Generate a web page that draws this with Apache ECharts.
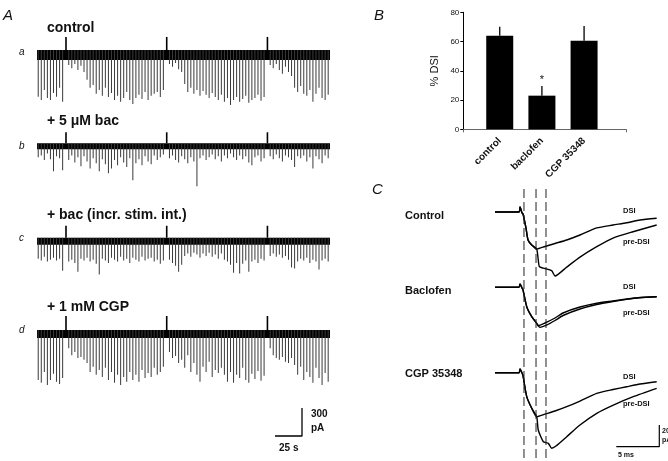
<!DOCTYPE html>
<html><head><meta charset="utf-8">
<script src="https://cdn.jsdelivr.net/npm/echarts@6/dist/echarts.min.js"></script>
<style>html,body{margin:0;padding:0;background:#fff}#c{width:668px;height:461px}</style>
</head><body><div id="c"></div><script>
// ---------- Panel B data ----------
const barCategories = ['control', 'baclofen', 'CGP 35348'];
const dsiMean = [64, 23, 60.5];
const dsiSem = [6.2, 6.6, 10.2];
const dsiSig = ['', '*', ''];

// ---------- Panel A data: IPSC amplitude per sweep (pA), null where the DSI step artifact sits ----------
const traceA = [500,535,430,515,535,460,500,405,555, null,
 160,195,150,215,170,235, 320,405,375,470,430,490,405,505,460,535, 490,555,515,450,535,580,515,480,525,450, 535,490,470,450,505,430, null,
 150,180,140,205,235, 365,450,405,470,430,490,440,480,515,460, 505,535,480,555,515,590,535,505,555,525, 490,565,535,515,480,545,505, null,
 160,195,150,215,255,180,235,280, 405,450,385,470,490,430,555,470,405,515,535,480];
const traceB = [150,130,180,110,170,300,140,160,290, null,
 180,130,205,150,245,140,195,270,160,215, 300,170,225,320,270,180,235,150,205,255, 160,395,215,170,235,140,195,225,130,180, 150,120, null,
 160,130,180,205,140,170,215,150,195,460, 160,130,180,150,120,170,140,195,130,160, 110,150,180,130,170,140,205,235,150,130, 195,160, null,
 140,170,120,160,195,130,150,180,255,140,160,130,195,150,270,140,170,215,130,160];
const traceC = [225,245,205,255,235,215,245,225,355, null,
 255,235,270,365,225,245,215,255,235,280, 395,225,245,270,215,235,255,205,245,225, 270,215,235,255,205,245,225,215,255,235, 280,245, null,
 235,270,300,365,290,195,170,205,160,180, 215,170,195,160,205,180,225,170,235,255, 290,375,270,385,280,245,365,255,235,270, 225,245, null,
 195,170,205,180,215,195,235,320,330,255,225,245,215,270,235,255,340,245,225,255];
const traceD = [535,565,450,590,535,470,555,580,515, null,
 195,270,235,300,290,320, 355,450,395,480,430,505,405,535,450,565, 480,590,505,555,450,535,480,555,430,515, 460,505,405,480,450,395, null,
 235,300,280,355, 320,405,270,450,355,480,555,395,450,340, 505,430,460,405,480,555,450,565,480,515, 405,535,565,470,525,440,545,490, null,
 195,270,300,320,290,340,355,300,375, 480,395,535,450,505,565,405,515,590,460,555];
const artifactSweeps = [9, 42, 75];
const artifactPA = [140, 118, 128, 150];   // upward artifact height per trace
const baselineNoisePA = [107, 64, 75, 86]; // thickness of noisy baseline band
const scaleA = { s: 25, pA: 300 };

// ---------- Panel C data: averaged IPSCs [ms, pA] ----------
const controlOnset = [[0,0],[2.79,0],[2.91,46],[3.14,-9],[3.26,-18],[3.60,-147],[3.84,-258],[4.27,-304],[4.85,-341]];
const controlDSItail = [[5.81,-318],[6.98,-290],[8.34,-258],[9.88,-212],[11.83,-147],[13.72,-120],[15.31,-99],[16.86,-74],[18.8,-58]];
const controlPreTail = [[5.15,-503],[5.62,-518],[6.59,-541],[6.98,-590],[8.34,-508],[9.88,-416],[11.83,-320],[13.72,-240],[16.05,-182],[18.8,-120]];
const baclofenOnset = [[0,0],[2.79,0],[2.91,30],[3.14,-6],[3.26,-25],[3.69,-179],[4.27,-271],[4.85,-332]];
const baclofenDSItail = [[5.03,-354],[5.81,-329],[6.98,-283],[7.91,-237],[9.88,-182],[11.83,-147],[13.72,-126],[15.31,-108],[16.86,-94],[18.8,-87]];
const baclofenPreTail = [[5.23,-369],[6.05,-347],[6.98,-306],[7.91,-260],[9.88,-200],[11.83,-159],[13.72,-131],[15.31,-111],[16.86,-96],[18.8,-87]];
const cgpOnset = [[0,0],[2.79,0],[2.91,34],[3.14,-3],[3.26,-30],[3.69,-221],[4.27,-328],[4.85,-406]];
const cgpDSItail = [[5.81,-382],[6.98,-353],[8.34,-313],[9.88,-261],[11.83,-190],[13.72,-155],[15.31,-129],[16.86,-104],[18.8,-83]];
const cgpPreTail = [[5.03,-528],[5.62,-636],[6.20,-651],[6.59,-697],[7.09,-676],[8.34,-590],[9.88,-482],[11.83,-374],[13.76,-298],[16.08,-221],[18.8,-144]];
const dashMs = [3.37, 4.77, 5.93];
const scaleC = { ms: 5, pA: 200 };

// ---------- layout ----------
const FONT = '"Liberation Sans", Arial, Helvetica, sans-serif';
const PX_S = 1.08, PX_PA_A = 0.0933, PX_MS = 8.6, PX_PA_C = 0.1085;
const grids = [], xAxes = [], yAxes = [], series = [];
function addGrid(g, xa, ya) {
  grids.push(g); const i = grids.length - 1;
  xAxes.push(Object.assign({ gridIndex: i }, xa));
  yAxes.push(Object.assign({ gridIndex: i }, ya));
  return i;
}

// Panel A traces
const traces = [traceA, traceB, traceC, traceD];
const bandTopY = [50, 143.3, 237.7, 330];
const sweeps = traceA.map((_, i) => String(i + 1));
traces.forEach((tr, k) => {
  const gi = addGrid({ left: 37, width: 293, top: bandTopY[k] - 200 * PX_PA_A, height: 850 * PX_PA_A },
    { type: 'category', data: sweeps, show: false, boundaryGap: true },
    { type: 'value', min: -650, max: 200, show: false });
  const art = sweeps.map((_, i) => artifactSweeps.indexOf(i) >= 0 ? artifactPA[k] : null);
  series.push({ type: 'bar', xAxisIndex: gi, yAxisIndex: gi, data: tr.map(v => v == null ? null : -v),
    barWidth: 1, barGap: '-100%', itemStyle: { color: '#3a3a3a' }, silent: true,
    markArea: { silent: true, itemStyle: { color: '#000', opacity: 1 }, data: [[{ yAxis: 0 }, { yAxis: -baselineNoisePA[k] }]] } });
  series.push({ type: 'bar', xAxisIndex: gi, yAxisIndex: gi, data: art, barWidth: 1.6, barGap: '-100%',
    itemStyle: { color: '#000' }, silent: true });
});
// scale bar A
const gsa = addGrid({ left: 275, top: 408, width: scaleA.s * PX_S, height: scaleA.pA * PX_PA_A },
  { type: 'value', min: 0, max: scaleA.s, show: false }, { type: 'value', min: 0, max: scaleA.pA, show: false });
series.push({ type: 'line', xAxisIndex: gsa, yAxisIndex: gsa, data: [[scaleA.s, scaleA.pA], [scaleA.s, 0], [0, 0]],
  symbol: 'none', clip: false, lineStyle: { color: '#000', width: 1.3 } });

// Panel B
const gb = addGrid({ left: 463.3, top: 12.3, width: 162.7, height: 117 },
  { type: 'value', min: -0.864, max: 2.994,
    axisLine: { show: true, onZero: false, lineStyle: { color: '#666', width: 1 } }, splitLine: { show: false },
    axisTick: { show: true, customValues: [-0.864, 2.994], length: 3, lineStyle: { color: '#666' } },
    axisLabel: { customValues: [0, 1, 2], formatter: v => barCategories[Math.round(v)], rotate: 45,
      fontSize: 10, fontWeight: 'bold', color: '#111', margin: 10, fontFamily: FONT } },
  { type: 'value', min: 0, max: 80, interval: 20, name: '% DSI', nameLocation: 'middle', nameGap: 23,
    nameTextStyle: { fontSize: 11, fontFamily: FONT, color: '#111' },
    axisLine: { show: true, onZero: false, lineStyle: { color: '#000', width: 1 } },
    axisTick: { show: true, length: 3, lineStyle: { color: '#000' } },
    axisLabel: { fontSize: 8, fontFamily: FONT, color: '#111', margin: 4 }, splitLine: { show: false } });
series.push({ type: 'bar', xAxisIndex: gb, yAxisIndex: gb, data: dsiMean.map((m, i) => [i, m]), barWidth: 27,
  itemStyle: { color: '#000' } });
// error bars (upper SEM only) as two-point lines
dsiMean.forEach((m, i) => {
  series.push({ type: 'line', xAxisIndex: gb, yAxisIndex: gb, z: 5, symbol: 'none', data: [[i, m], [i, m + dsiSem[i]]],
    lineStyle: { color: '#000', width: 1.3 },
    markPoint: dsiSig[i] ? { symbol: 'circle', symbolSize: 0, data: [{ coord: [i, m + dsiSem[i]], value: dsiSig[i] }],
      label: { show: true, position: 'top', distance: 1, formatter: dsiSig[i], color: '#111', fontSize: 11, fontFamily: FONT } } : undefined });
});

// Panel C traces
const cBaseY = [212, 287.3, 372.7];
const cSets = [
  [controlOnset.concat(controlDSItail), controlOnset.concat(controlPreTail)],
  [baclofenOnset.concat(baclofenDSItail), baclofenOnset.concat(baclofenPreTail)],
  [cgpOnset.concat(cgpDSItail), cgpOnset.concat(cgpPreTail)]
];
cSets.forEach((pair, k) => {
  const gi = addGrid({ left: 495, width: 19.2 * PX_MS, top: cBaseY[k] - 100 * PX_PA_C, height: 850 * PX_PA_C },
    { type: 'value', min: 0, max: 19.2, show: false }, { type: 'value', min: -750, max: 100, show: false });
  pair.forEach(d => series.push({ type: 'line', xAxisIndex: gi, yAxisIndex: gi, data: d, symbol: 'none', smooth: 0.2,
    lineStyle: { color: '#000', width: 1.4 } }));
});
const gd = addGrid({ left: 495, width: 19.2 * PX_MS, top: 188, height: 270 },
  { type: 'value', min: 0, max: 19.2, show: false }, { type: 'value', min: 0, max: 1, show: false });
dashMs.forEach(x => series.push({ type: 'line', xAxisIndex: gd, yAxisIndex: gd, data: [[x, 0], [x, 1]], symbol: 'none',
  lineStyle: { color: '#222', width: 1, type: [9, 4] } }));
const gsc = addGrid({ left: 616.3, top: 425, width: scaleC.ms * PX_MS, height: scaleC.pA * PX_PA_C },
  { type: 'value', min: 0, max: scaleC.ms, show: false }, { type: 'value', min: 0, max: scaleC.pA, show: false });
series.push({ type: 'line', xAxisIndex: gsc, yAxisIndex: gsc, data: [[scaleC.ms, scaleC.pA], [scaleC.ms, 0], [0, 0]],
  symbol: 'none', clip: false, lineStyle: { color: '#000', width: 1.2 } });

// Texts
const T = (text, x, y, font) => ({ type: 'text', x, y, silent: true,
  style: { text, fill: '#111', font: font + ' ' + FONT, verticalAlign: 'middle', align: 'left' } });
const texts = [
  T('A', 3, 16, 'italic 15px'), T('B', 374, 16, 'italic 15px'), T('C', 372, 190, 'italic 15px'),
  T('control', 47, 28, 'bold 14px'), T('a', 19, 52, 'italic 10px'),
  T('+ 5 \u03BCM bac', 47, 121, 'bold 14px'), T('b', 19, 146, 'italic 10px'),
  T('+ bac (incr. stim. int.)', 47, 215, 'bold 14px'), T('c', 19, 238, 'italic 10px'),
  T('+ 1 mM CGP', 47, 307, 'bold 14px'), T('d', 19, 330, 'italic 10px'),
  T('300', 311, 414, 'bold 10px'), T('pA', 311, 428, 'bold 10px'), T('25 s', 279, 448, 'bold 10px'),
  T('Control', 405, 216, 'bold 11px'), T('Baclofen', 405, 291, 'bold 11px'), T('CGP 35348', 405, 374, 'bold 11px'),
  T('DSI', 623, 211, 'bold 7.5px'), T('pre-DSI', 623, 242, 'bold 7.5px'),
  T('DSI', 623, 287, 'bold 7.5px'), T('pre-DSI', 623, 313, 'bold 7.5px'),
  T('DSI', 623, 377, 'bold 7.5px'), T('pre-DSI', 623, 404, 'bold 7.5px'),
  T('200', 662, 431, 'bold 7px'), T('pA', 662, 440, 'bold 7px'), T('5 ms', 618, 455, 'bold 7px')
];

const chart = echarts.init(document.getElementById('c'));
chart.setOption({
  animation: false,
  textStyle: { fontFamily: FONT },
  grid: grids, xAxis: xAxes, yAxis: yAxes, series,
  graphic: { elements: texts }
});
</script></body></html>
